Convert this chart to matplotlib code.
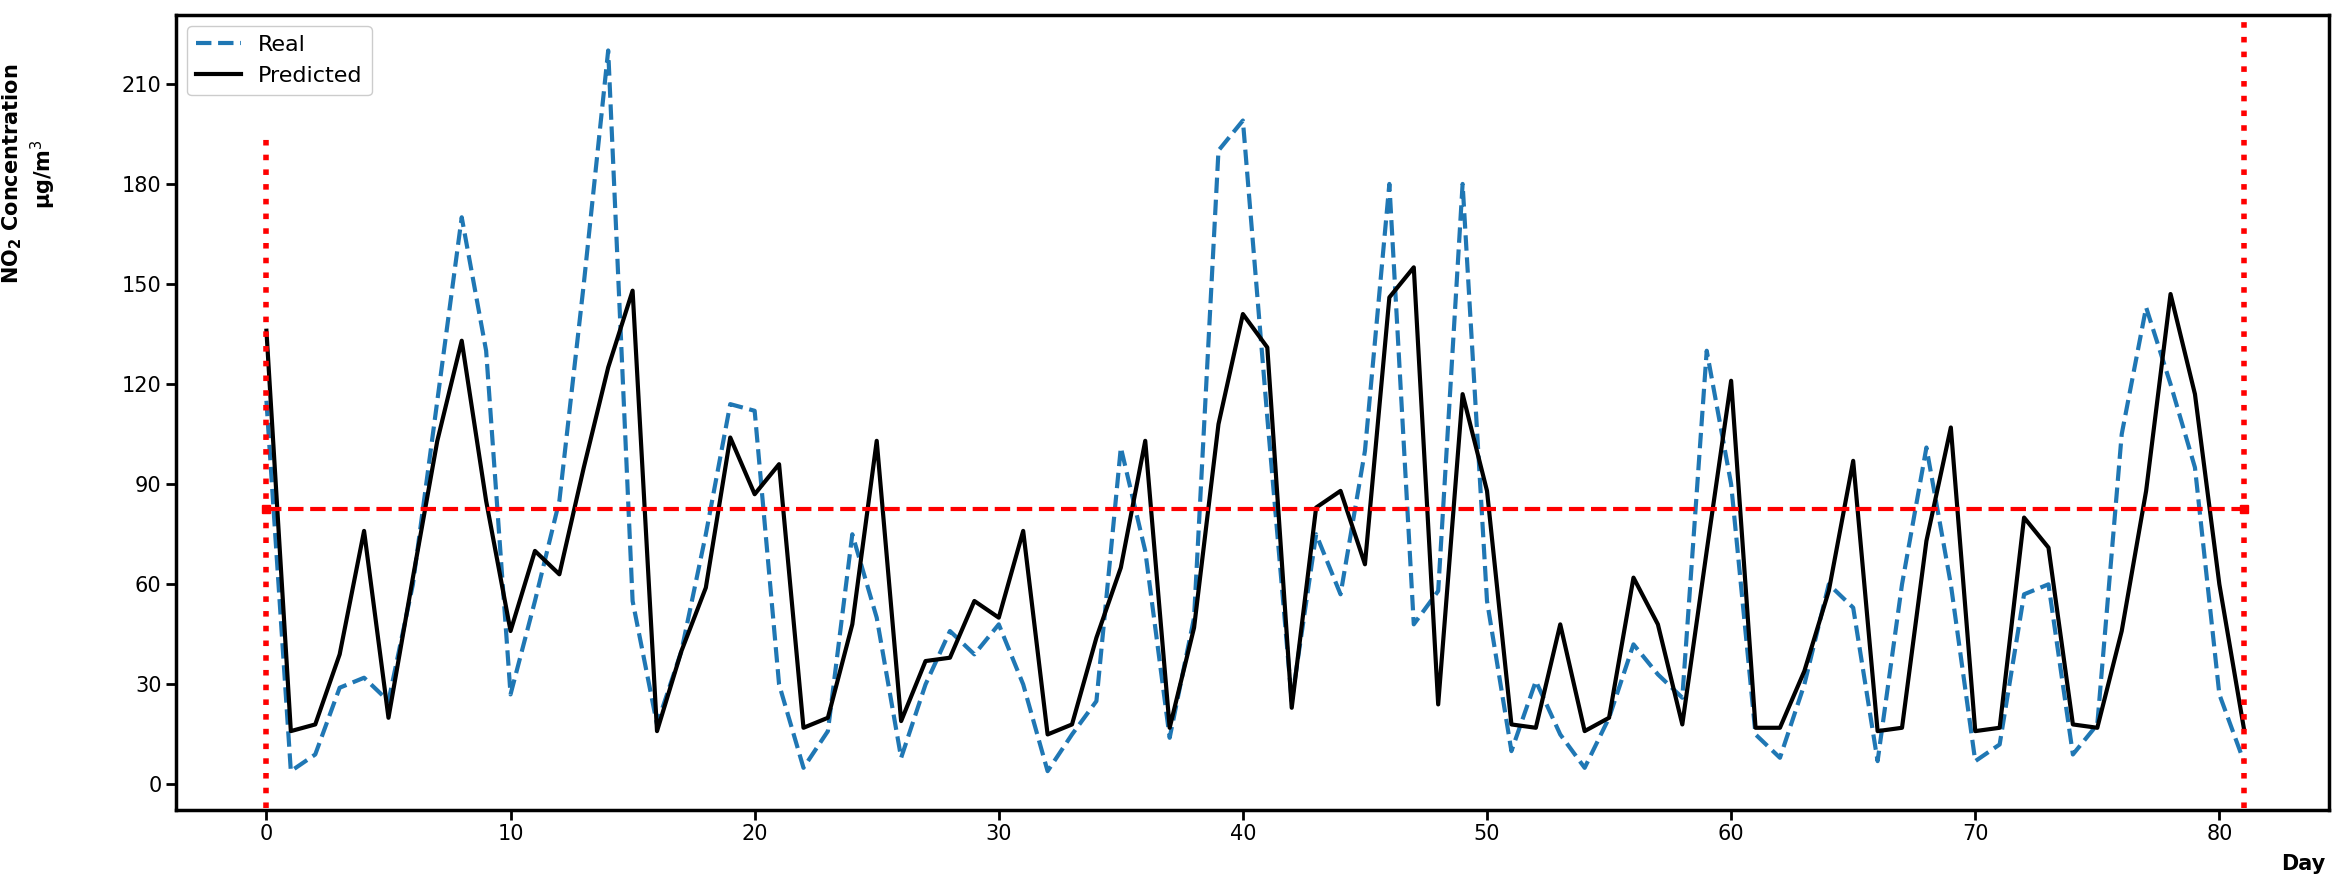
import numpy as np
import matplotlib.pyplot as plt

days = np.arange(82)
real = [115, 4, 9, 29, 32, 25, 60, 115, 170, 130, 27, 55, 85, 150, 220, 55, 18, 40, 75, 114,
        112, 30, 5, 16, 75, 50, 8, 30, 46, 39, 48, 30, 4, 15, 25, 101, 70, 14, 50, 190,
        199, 110, 25, 75, 57, 100, 180, 48, 58, 180, 55, 10, 31, 15, 5, 20, 42, 33, 26, 130,
        90, 15, 8, 30, 60, 53, 7, 60, 101, 60, 7, 12, 57, 60, 9, 18, 105, 143, 120, 95,
        27, 7]
predicted = [136, 16, 18, 39, 76, 20, 62, 103, 133, 85, 46, 70, 63, 95, 125, 148, 16, 40, 59, 104,
             87, 96, 17, 20, 48, 103, 19, 37, 38, 55, 50, 76, 15, 18, 44, 65, 103, 17, 47, 108,
             141, 131, 23, 83, 88, 66, 146, 155, 24, 117, 88, 18, 17, 48, 16, 20, 62, 48, 18, 70,
             121, 17, 17, 34, 58, 97, 16, 17, 73, 107, 16, 17, 80, 71, 18, 17, 46, 88, 147, 117,
             60, 17]
mean_level = 82.5

plt.rcParams['font.family'] = ['Verdana', 'DejaVu Sans']
fig = plt.figure(figsize=(23.48, 8.88), dpi=100)
ax = fig.add_axes([0.075, 0.088, 0.917, 0.895])

ax.plot(days, real, '--', color='#1f77b4', lw=3, label='Real')
ax.plot(days, predicted, '-', color='black', lw=3, label='Predicted')
ax.plot([0, 81], [mean_level, mean_level], '--', color='red', lw=3, marker='s', ms=6)
ax.plot([0, 0], [-7, 195], ':', color='red', lw=4)
ax.plot([81, 81], [-7, 230], ':', color='red', lw=4)

ax.set_xlim(-3.7, 84.5)
ax.set_ylim(-7.6, 230.6)
ax.set_yticks(range(0, 211, 30))
ax.set_xticks(range(0, 81, 10))
ax.tick_params(labelsize=15, width=2, length=7)
for s in ax.spines.values():
    s.set_linewidth(2.5)

ax.set_ylabel('NO$_\\mathbf{2}$ Concentration\n\u03bcg/m$^3$', fontsize=15, fontweight='bold')
ax.yaxis.set_label_coords(-0.055, 0.8)
ax.set_xlabel('Day', fontsize=15, fontweight='bold')
ax.xaxis.set_label_coords(0.998, -0.055)
ax.xaxis.label.set_horizontalalignment('right')
ax.legend(loc='upper left', fontsize=16, framealpha=1, edgecolor='#cccccc')

fig.savefig('out.png')
